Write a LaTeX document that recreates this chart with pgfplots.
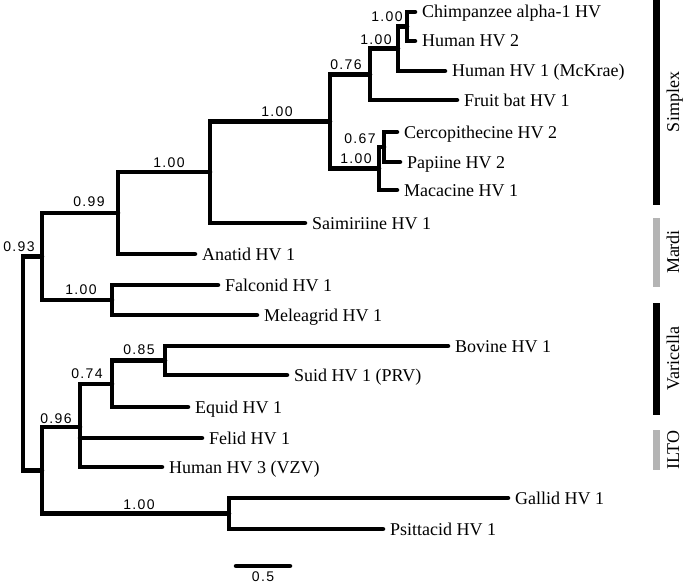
\documentclass[border=0pt]{standalone}
\usepackage{fontspec}
\setmainfont{Liberation Serif}
\newfontfamily\bsfam[LetterSpace=10]{Liberation Sans}
\usepackage{pgfplots}
\pgfplotsset{compat=1.18}
\newcommand\lf{\fontsize{18bp}{20bp}\selectfont}
\newcommand\bsf{\bsfam\fontsize{14bp}{16bp}\selectfont}
\definecolor{bargray}{RGB}{180,180,180}
\tikzset{
  leaf/.style={font=\lf, inner sep=0pt, anchor=base west},
  bs/.style={font=\bsf, inner sep=0pt, anchor=south},
  clade/.style={font=\lf, inner sep=0pt, anchor=base, rotate=90},
}
\pgfplotsset{
  tree/.style={black, mark=none, line width=4.5bp, line join=miter, line cap=round},
  cbar/.style={mark=none, line width=7bp, line cap=butt},
}
\begin{document}
\begin{tikzpicture}
\begin{axis}[
  name=ax,
  scale only axis, width=685bp, height=586bp,
  xmin=0, xmax=685, ymin=0, ymax=586, y dir=reverse,
  hide axis, clip=false,
]
% tree branches (pixel coordinates, y downward)
\addplot[tree] coordinates {(415,12) (407,12) (407,41) (415,41)};
\addplot[tree] coordinates {(407,26.5) (398,26.5) (398,71) (445,71)};
\addplot[tree] coordinates {(398,48.75) (370,48.75) (370,100) (457,100)};
\addplot[tree] coordinates {(397,132) (384,132) (384,162) (400,162)};
\addplot[tree] coordinates {(384,147) (379,147) (379,190) (397,190)};
\addplot[tree] coordinates {(370,74.4) (330,74.4) (330,168.5) (379,168.5)};
\addplot[tree] coordinates {(330,121.4) (210,121.4) (210,223) (305,223)};
\addplot[tree] coordinates {(210,172.2) (118,172.2) (118,254) (195,254)};
\addplot[tree] coordinates {(218,285) (112,285) (112,315) (257,315)};
\addplot[tree] coordinates {(118,213.1) (42,213.1) (42,300) (112,300)};
\addplot[tree] coordinates {(448,346) (165,346) (165,375) (287,375)};
\addplot[tree] coordinates {(165,360.5) (112,360.5) (112,407) (188,407)};
\addplot[tree] coordinates {(112,383.75) (80,383.75) (80,467) (162,467)};
\addplot[tree] coordinates {(80,438) (202,438)};
\addplot[tree] coordinates {(508,498) (229,498) (229,529) (383,529)};
\addplot[tree] coordinates {(80,427) (42,427) (42,513.5) (229,513.5)};
\addplot[tree] coordinates {(42,256.5) (23,256.5) (23,470.25) (42,470.25)};
% scale bar
\addplot[tree] coordinates {(236,566) (290,566)};
% clade bars
\addplot[cbar, black] coordinates {(656.5,0) (656.5,205)};
\addplot[cbar, bargray] coordinates {(656.5,218) (656.5,287)};
\addplot[cbar, black] coordinates {(656.5,303) (656.5,415)};
\addplot[cbar, bargray] coordinates {(656.5,430) (656.5,470)};
% leaf labels
\node[leaf] at (axis cs:422,18) {Chimpanzee alpha-1 HV};
\node[leaf] at (axis cs:422,47) {Human HV 2};
\node[leaf] at (axis cs:452,77) {Human HV 1 (McKrae)};
\node[leaf] at (axis cs:464,106) {Fruit bat HV 1};
\node[leaf] at (axis cs:404,138) {Cercopithecine HV 2};
\node[leaf] at (axis cs:407,168) {Papiine HV 2};
\node[leaf] at (axis cs:404,196) {Macacine HV 1};
\node[leaf] at (axis cs:312,229) {Saimiriine HV 1};
\node[leaf] at (axis cs:202,260) {Anatid HV 1};
\node[leaf] at (axis cs:225,291) {Falconid HV 1};
\node[leaf] at (axis cs:264,321) {Meleagrid HV 1};
\node[leaf] at (axis cs:455,352) {Bovine HV 1};
\node[leaf] at (axis cs:294,381) {Suid HV 1 (PRV)};
\node[leaf] at (axis cs:195,413) {Equid HV 1};
\node[leaf] at (axis cs:209,444) {Felid HV 1};
\node[leaf] at (axis cs:169,473) {Human HV 3 (VZV)};
\node[leaf] at (axis cs:515,504) {Gallid HV 1};
\node[leaf] at (axis cs:390,535) {Psittacid HV 1};
% support values
\node[bs] at (axis cs:387,22) {1.00};
\node[bs] at (axis cs:376,45) {1.00};
\node[bs] at (axis cs:346,70) {0.76};
\node[bs] at (axis cs:360,144) {0.67};
\node[bs] at (axis cs:356,164) {1.00};
\node[bs] at (axis cs:277,117) {1.00};
\node[bs] at (axis cs:169,168) {1.00};
\node[bs] at (axis cs:89,207) {0.99};
\node[bs] at (axis cs:81,295) {1.00};
\node[bs] at (axis cs:19,252) {0.93};
\node[bs] at (axis cs:139,355) {0.85};
\node[bs] at (axis cs:87,379) {0.74};
\node[bs] at (axis cs:56,424) {0.96};
\node[bs] at (axis cs:139,510) {1.00};
\node[font=\bsf, inner sep=0pt, anchor=base] at (axis cs:263,581) {0.5};
% clade names
\node[clade] at (axis cs:679,102) {Simplex};
\node[clade] at (axis cs:679,252) {Mardi};
\node[clade] at (axis cs:679,359) {Varicella};
\node[clade] at (axis cs:679,450) {ILTO};
\end{axis}
\pgfresetboundingbox
\path[use as bounding box] (ax.south west) rectangle (ax.north east);
\end{tikzpicture}
\end{document}
